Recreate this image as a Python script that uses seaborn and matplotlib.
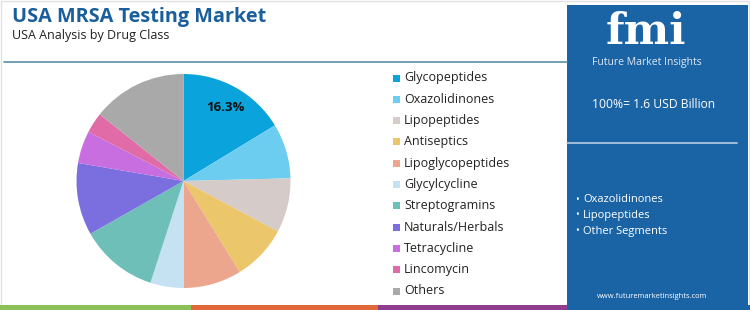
import matplotlib
matplotlib.use("Agg")
import matplotlib.pyplot as plt
import seaborn as sns
from matplotlib.patches import Rectangle

# Data (clockwise from 12 o'clock)
classes = ["Glycopeptides", "Oxazolidinones", "Lipopeptides", "Antiseptics",
           "Lipoglycopeptides", "Glycylcycline", "Streptogramins",
           "Naturals/Herbals", "Tetracycline", "Lincomycin", "Others"]
shares = [16.3, 8.3, 8.2, 8.4, 8.8, 5.0, 11.8, 10.9, 4.9, 3.1, 14.3]
colors = ["#0ba3db", "#6dcdf1", "#d5cbc8", "#ecc66b", "#eba68d", "#c5e2f3",
          "#6ebfb8", "#7b6fe0", "#c86ee0", "#e06ba6", "#a9a9a9"]
highlights = ["Oxazolidinones", "Lipopeptides", "Other Segments"]
total_label = "100%= 1.6 USD Billion"

sns.set_theme(style="white")
plt.rcParams["font.family"] = ["Open Sans", "DejaVu Sans"]

W, H = 750, 310
fig = plt.figure(figsize=(W / 100, H / 100), dpi=100)

# background axes in pixel coordinates for the decorations
bg = fig.add_axes([0, 0, 1, 1])
bg.set_xlim(0, W)
bg.set_ylim(H, 0)
bg.axis("off")

# outer border and separator line
bg.add_patch(Rectangle((1, 1), W - 2, H - 2, fill=False, ec="#e2e2e2", lw=1))
bg.plot([4, 567], [62, 62], color="#5a8fa9", lw=1.2)

# bottom colour strip
for x0, x1, c in [(0, 191, "#8cc15a"), (191, 378, "#e0683b"),
                  (378, 567, "#8f3e8f"), (567, 750, "#1a63a5")]:
    bg.add_patch(Rectangle((x0, 305), x1 - x0, 5, color=c, lw=0))

# right info panel
bg.add_patch(Rectangle((567, 5), 181, 305, color="#1a63a5", lw=0))

# titles
bg.text(12, 17, "USA MRSA Testing Market", fontsize=14.3, fontweight="bold",
        color="#1a5f9c", va="center", ha="left")
bg.text(12, 36, "USA Analysis by Drug Class", fontsize=9, color="#222222",
        va="center", ha="left")

# logo approximation
bg.text(646, 32, "fmi", fontsize=31, fontweight="bold", color="white",
        va="center", ha="center", family=["DejaVu Serif"])
bg.text(647, 63, "Future Market Insights", fontsize=7.5, color="#dce8f4",
        va="center", ha="center")

bg.text(654, 104, total_label, fontsize=8.7, color="white", va="center", ha="center")
bg.plot([567, 737], [143, 143], color="#b8cde2", lw=1.2)
for i, name in enumerate(highlights):
    y = 200 + i * 15.7
    bg.text(577, y, "\u2022", fontsize=7, color="white", va="center", ha="center")
    bg.text(583, y, name, fontsize=8, color="white", va="center", ha="left")
bg.text(652, 296, "www.futuremarketinsights.com", fontsize=5.4, color="white",
        va="center", ha="center")

# pie chart
cx, cy, r = 183.5, 181, 107
pie_ax = fig.add_axes([(cx - r) / W, (H - cy - r) / H, 2 * r / W, 2 * r / H])
wedges, _, autotexts = pie_ax.pie(
    shares, colors=colors, startangle=90, counterclock=False,
    autopct=lambda p: f"{p:.1f}%" if 15.5 < p < 16.5 else "",
    pctdistance=0.79, wedgeprops=dict(linewidth=0),
    textprops=dict(fontsize=9.5, fontweight="bold", color="#111111"))
pie_ax.set_xlim(-1, 1)
pie_ax.set_ylim(-1, 1)
pie_ax.axis("off")

# legend
for i, (name, c) in enumerate(zip(classes, colors)):
    y = 78 + i * 21.3
    bg.add_patch(Rectangle((393, y - 3.5), 7, 7, color=c, lw=0))
    bg.text(404, y, name, fontsize=9, color="#222222", va="center", ha="left")

fig.savefig("out.png", dpi=100)
